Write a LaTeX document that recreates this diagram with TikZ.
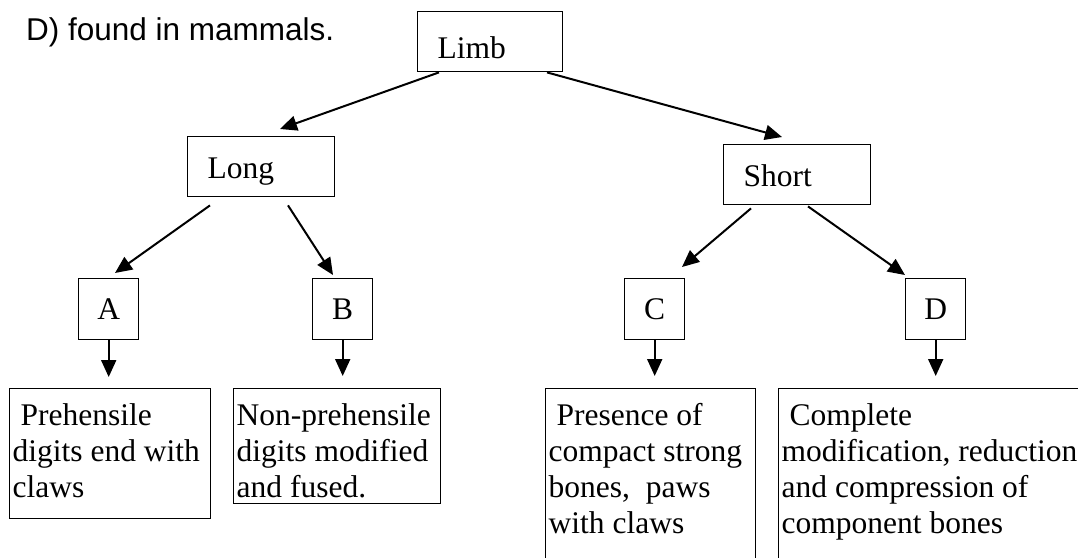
\documentclass[tikz,border=0pt]{standalone}
\usepackage{fontspec}
\setmainfont{Liberation Serif}
\newfontfamily\arialfont{Liberation Sans}
\usetikzlibrary{arrows.meta,calc}
\begin{document}
\begin{tikzpicture}[x=1pt,y=-1pt,
  every node/.style={font=\fontsize{31.5}{36}\selectfont},
  topbox/.style={draw, line width=1.4pt, anchor=north west, inner xsep=20pt, inner ysep=0pt,
    text width=#1, align=flush left, text height=42pt, text depth=18pt},
  letterbox/.style={draw, line width=1.4pt, anchor=north west, minimum width=60pt, inner sep=0pt,
    text height=41pt, text depth=20pt},
  descbox/.style args={#1/#2}{draw, line width=1.4pt, anchor=north west, inner xsep=3pt, inner ysep=0pt,
    text width=#1, align=flush left, text height=37pt, text depth=#2},
  arr/.style={line width=2pt, -{Triangle[length=17pt,width=15pt]}}
]
\useasboundingbox (0,0) rectangle (1078,557);
\fill[white] (0,0) rectangle (1078,557);
\clip (0,0) rectangle (1078,557);

\node[anchor=base west, inner sep=0pt, font=\arialfont\fontsize{31.5}{36}\selectfont] (title) at (26,40) {D) found in mammals.};

\node[topbox=105pt, text height=47pt, text depth=13pt] (limb) at (417,11) {Limb};
\node[topbox=107pt] (long) at (187,136) {Long};
\node[topbox=107pt] (short) at (723,144) {Short};

\node[letterbox] (A) at (78,278) {A};
\node[letterbox] (B) at (312,278) {B};
\node[letterbox] (C) at (624,278) {C};
\node[letterbox] (D) at (905,278) {D};

\node[descbox=195pt/93pt] (pre) at (9,388) {\ Prehensile\\digits end with\\claws};
\node[descbox=201pt/78pt] (non) at (233,388) {Non-prehensile\\digits modified\\and fused.};
\node[descbox=204pt/200pt] (pres) at (545,388) {\ Presence of\\compact strong\\bones, \ paws\\with claws};
\node[descbox=314pt/200pt] (comp) at (778,388) {\ Complete\\modification, reduction\\and compression of\\component bones};

\draw[arr] ($(limb.south west)+(22,0)$) -- ($(long.north west)+(93,-7)$);
\draw[arr] ($(limb.south west)+(130,0)$) -- ($(short.north west)+(59,-7)$);
\draw[arr] ($(long.south west)+(23,8)$) -- ($(A.north west)+(37,-5)$);
\draw[arr] ($(long.south west)+(101,8)$) -- ($(B.north west)+(21,-3)$);
\draw[arr] ($(short.south west)+(28,3)$) -- ($(C.north west)+(58,-11)$);
\draw[arr] ($(short.south west)+(85,1)$) -- ($(D.north west)+(0,-3)$);

\draw[arr] (A.south) -- ($(A.south |- pre.north)+(0,-11)$);
\draw[arr] (B.south) -- ($(B.south |- non.north)+(0,-12)$);
\draw[arr] (C.south) -- ($(C.south |- pres.north)+(0,-12)$);
\draw[arr] (D.south) -- ($(D.south |- comp.north)+(0,-12)$);
\end{tikzpicture}
\end{document}
